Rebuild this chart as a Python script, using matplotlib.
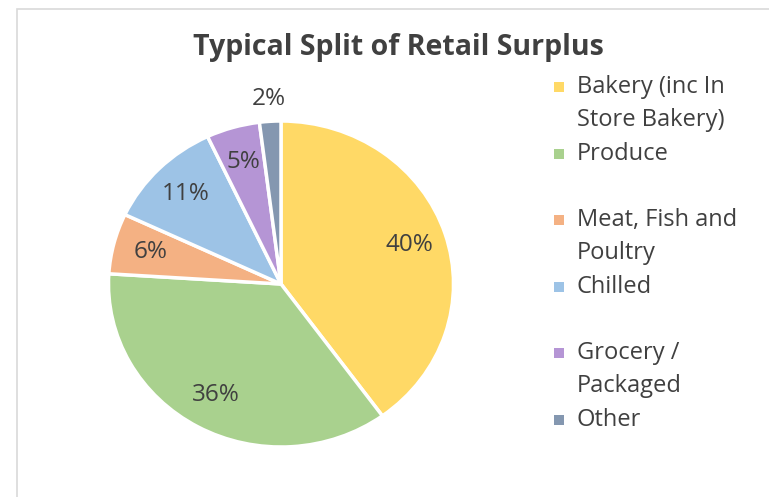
import matplotlib
matplotlib.use("Agg")
import matplotlib.pyplot as plt
from matplotlib.patches import Rectangle

# data
labels = ["Bakery (inc In\nStore Bakery)", "Produce", "Meat, Fish and\nPoultry",
          "Chilled", "Grocery /\nPackaged", "Other"]
shares = [40, 36, 6, 11, 5, 2]
colors = ["#FFD966", "#A9D18E", "#F4B183", "#9DC3E6", "#B595D5", "#8497B0"]

W, H = 769, 497
txt = "#404040"
plt.rcParams['font.family'] = ['Open Sans', 'DejaVu Sans']

fig = plt.figure(figsize=(W / 100, H / 100), dpi=100)
fig.patches.append(Rectangle((17 / W, -0.1), 1.2, 1 - 9 / H + 0.1, transform=fig.transFigure,
                             fill=False, edgecolor="#D9D9D9", linewidth=1.2))

# pie area (slightly wider than tall, like the reference)
cx, cy, rx, ry = 281, 284, 172.5, 163
ax = fig.add_axes([(cx - rx) / W, 1 - (cy + ry) / H, 2 * rx / W, 2 * ry / H])
wedges, texts, autotexts = ax.pie(shares, colors=colors, startangle=90, counterclock=False,
                                  autopct='%d%%', pctdistance=0.78,
                                  wedgeprops=dict(edgecolor="white", linewidth=2.5),
                                  textprops=dict(color=txt, fontsize=17.5))
ax.set_aspect('auto')
ax.set_xlim(-1, 1)
ax.set_ylim(-1, 1)

# small slice label sits outside
x, y = autotexts[-1].get_position()
autotexts[-1].set_position((x * 1.46, y * 1.46))

fig.text(398 / W, 1 - 47 / H, "Typical Split of Retail Surplus", ha='center', va='center',
         fontsize=20.5, fontweight='bold', color=txt)

# legend, Excel style: each entry gets a two-line slot
top, slot, line = 87, 66.6, 33
for i, (lab, c) in enumerate(zip(labels, colors)):
    y0 = top + i * slot
    fig.patches.append(Rectangle((554 / W, 1 - (y0 + 5) / H), 10 / W, 10 / H,
                                 transform=fig.transFigure, facecolor=c, edgecolor='none'))
    for j, part in enumerate(lab.split("\n")):
        fig.text(577 / W, 1 - (y0 + j * line) / H, part, ha='left', va='center',
                 fontsize=17, color=txt)

fig.savefig("out.png", dpi=100)
